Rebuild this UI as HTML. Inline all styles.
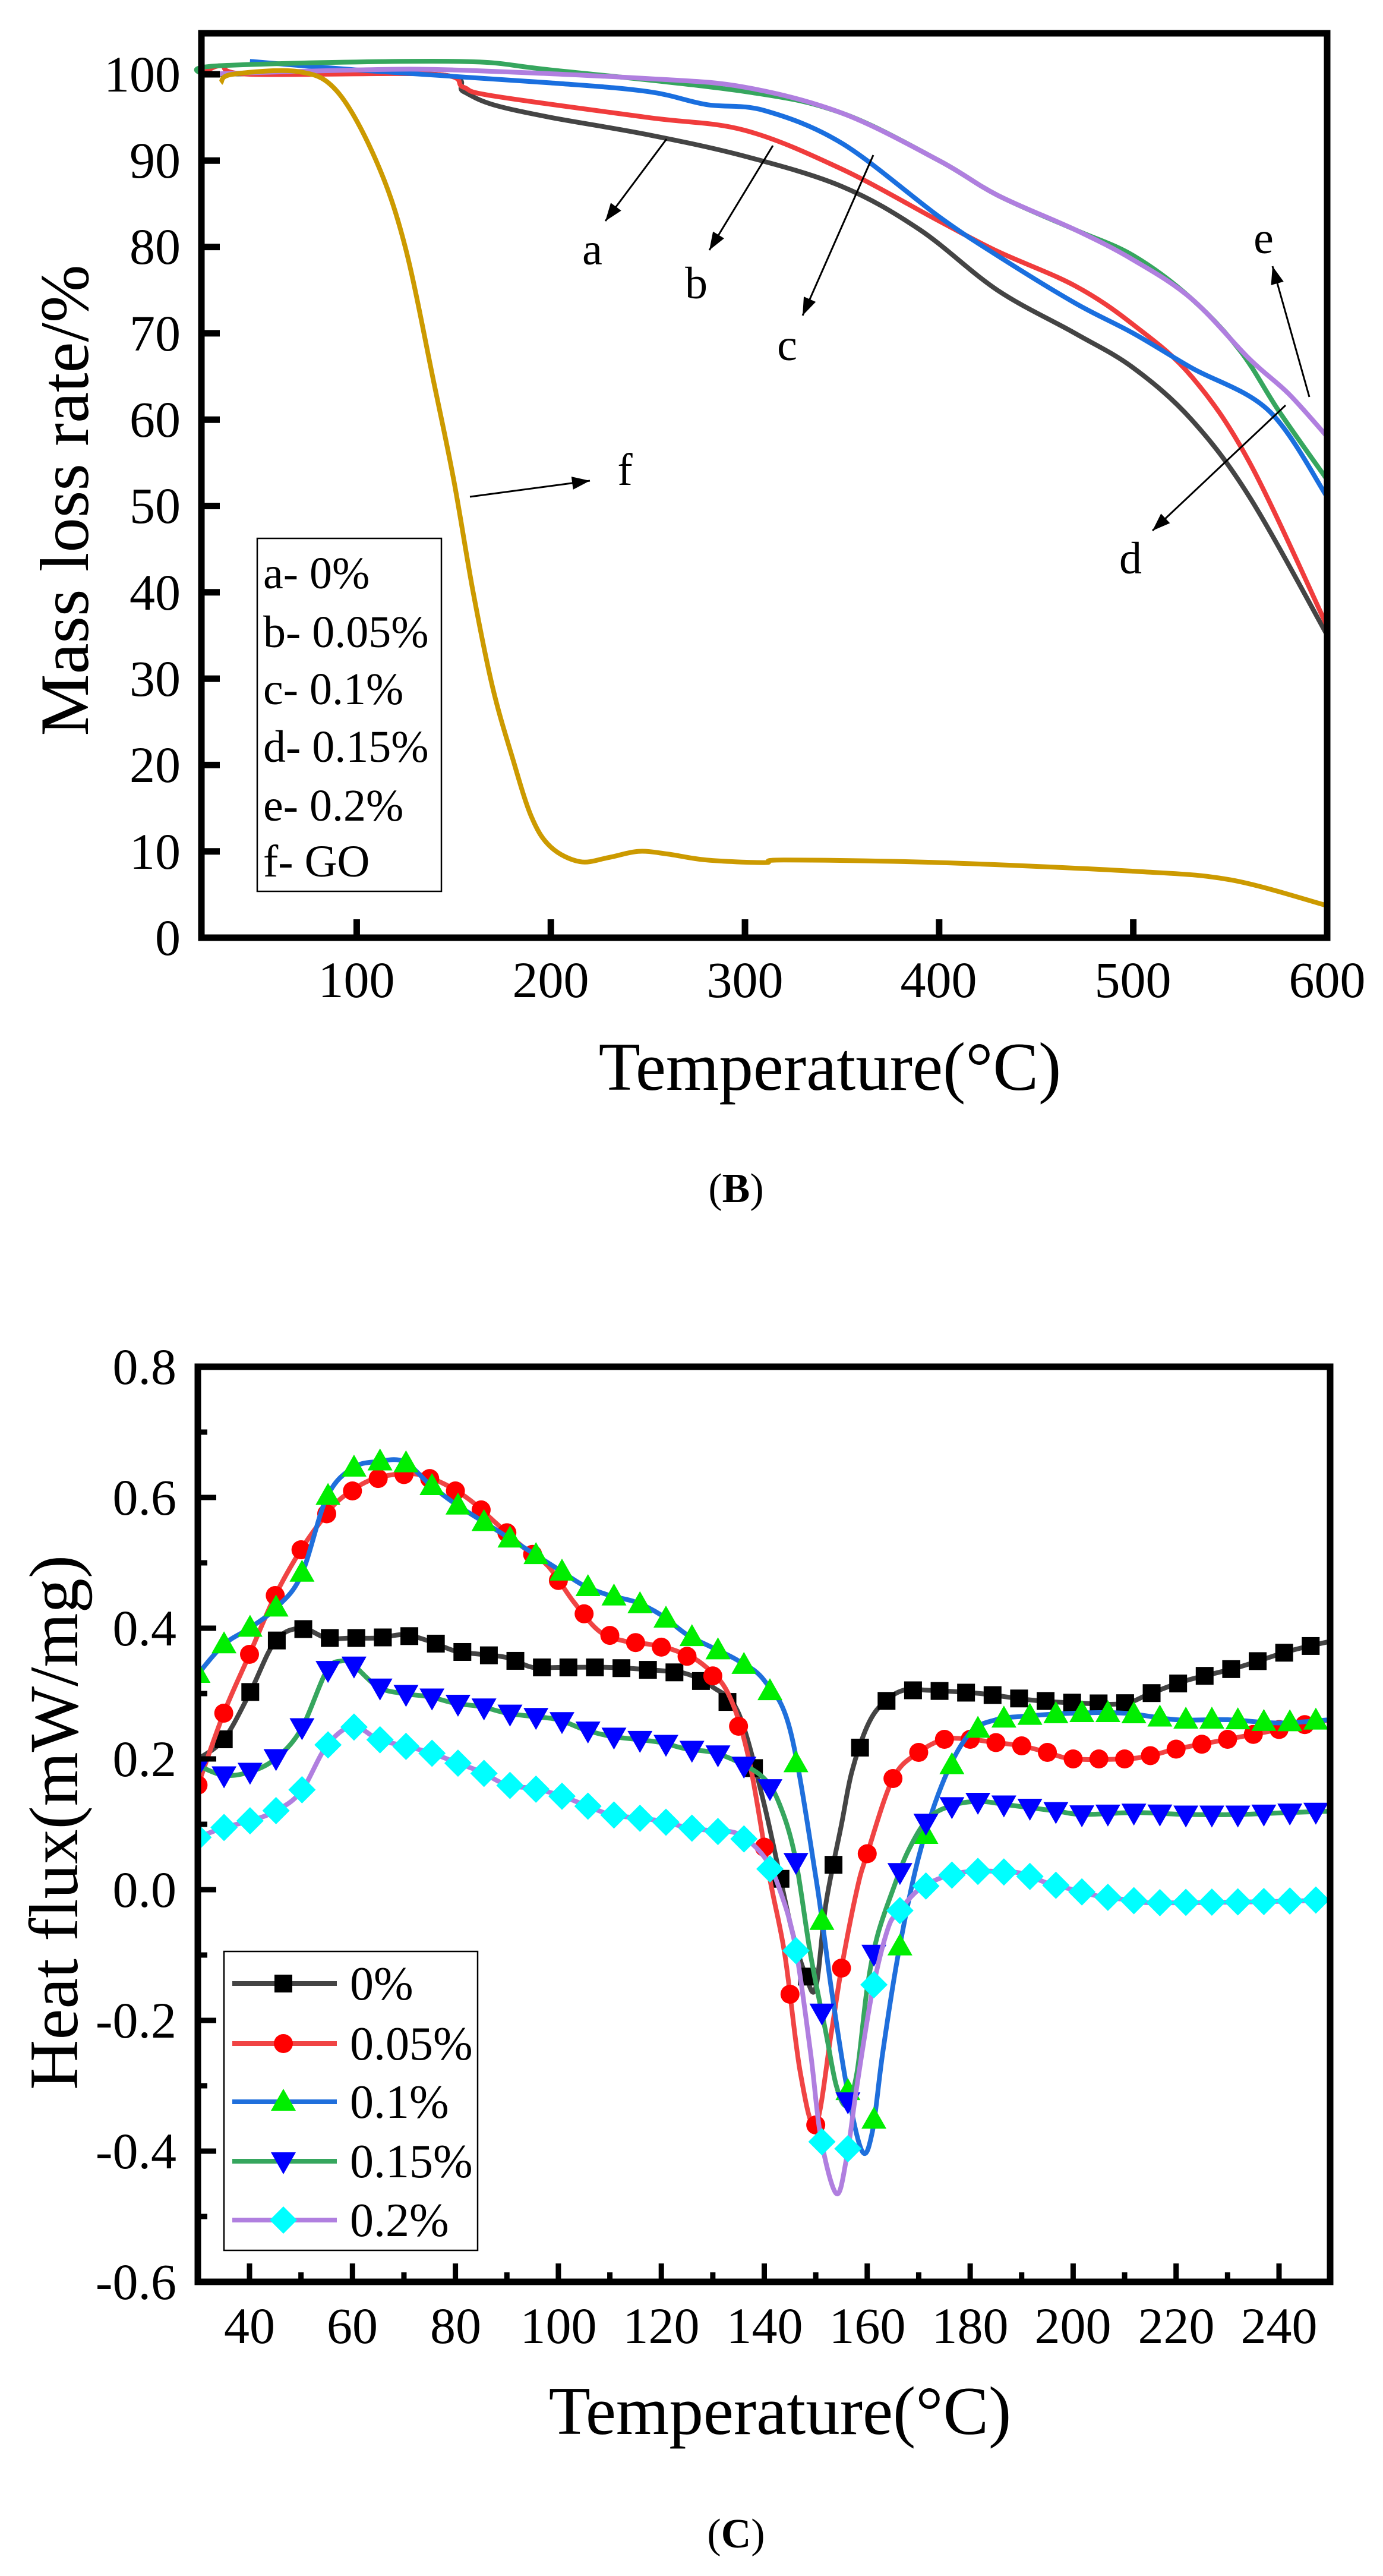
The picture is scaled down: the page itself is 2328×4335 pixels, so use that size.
<!DOCTYPE html>
<html><head><meta charset="utf-8">
<style>
html,body{margin:0;padding:0;background:#fff;}
svg{display:block;}
text{font-family:"Liberation Serif",serif;fill:#000;}
</style></head>
<body>
<svg id="s" width="2328" height="4335" viewBox="0 0 2328 4335" xmlns="http://www.w3.org/2000/svg">
<rect width="2328" height="4335" fill="#fff"/>
<g id="topg"></g>
<g id="bot"></g>
<!-- top chart texts -->
<g font-size="86" text-anchor="end">
<text x="304" y="154">100</text><text x="304" y="299">90</text><text x="304" y="444">80</text><text x="304" y="590">70</text><text x="304" y="735">60</text><text x="304" y="880">50</text><text x="304" y="1026">40</text><text x="304" y="1171">30</text><text x="304" y="1316">20</text><text x="304" y="1462">10</text><text x="304" y="1607">0</text>
</g>
<g font-size="86" text-anchor="middle">
<text x="600" y="1678">100</text><text x="927" y="1678">200</text><text x="1254" y="1678">300</text><text x="1580" y="1678">400</text><text x="1907" y="1678">500</text><text x="2234" y="1678">600</text>
</g>
<text x="1397" y="1834" font-size="115" text-anchor="middle">Temperature(°C)</text>
<text transform="translate(148,842) rotate(-90)" font-size="117" text-anchor="middle">Mass loss rate/%</text>
<text x="1239" y="2023" font-size="70" text-anchor="middle">(<tspan font-weight="bold">B</tspan>)</text>
<rect x="433" y="906" width="310" height="594" fill="none" stroke="#000" stroke-width="2.5"/>
<g font-size="76">
<text x="443" y="990">a- 0%</text><text x="443" y="1089">b- 0.05%</text><text x="443" y="1185">c- 0.1%</text><text x="443" y="1282">d- 0.15%</text><text x="443" y="1381">e- 0.2%</text><text x="443" y="1475">f- GO</text>
</g>
<g font-size="76" text-anchor="middle">
<text x="997" y="445">a</text><text x="1172" y="502">b</text><text x="1325" y="606">c</text><text x="1903" y="965">d</text><text x="2127" y="426">e</text><text x="1052" y="816">f</text>
</g>
<!-- bottom chart texts -->
<g font-size="86" text-anchor="end">
<text x="297" y="2329">0.8</text><text x="297" y="2549">0.6</text><text x="297" y="2769">0.4</text><text x="297" y="2989">0.2</text><text x="297" y="3209">0.0</text><text x="297" y="3429">-0.2</text><text x="297" y="3649">-0.4</text><text x="297" y="3869">-0.6</text>
</g>
<g font-size="86" text-anchor="middle">
<text x="420" y="3943">40</text><text x="593" y="3943">60</text><text x="767" y="3943">80</text><text x="940" y="3943">100</text><text x="1113" y="3943">120</text><text x="1287" y="3943">140</text><text x="1460" y="3943">160</text><text x="1633" y="3943">180</text><text x="1806" y="3943">200</text><text x="1980" y="3943">220</text><text x="2153" y="3943">240</text>
</g>
<text x="1313" y="4096" font-size="115" text-anchor="middle">Temperature(°C)</text>
<text transform="translate(130,3067) rotate(-90)" font-size="117" text-anchor="middle">Heat flux(mW/mg)</text>
<text x="1239" y="4287" font-size="70" text-anchor="middle">(<tspan font-weight="bold">C</tspan>)</text>
<g id="legbox"></g>
<g font-size="80">
<text x="589" y="3365">0%</text><text x="589" y="3466">0.05%</text><text x="589" y="3564">0.1%</text><text x="589" y="3664">0.15%</text><text x="589" y="3763">0.2%</text>
</g>
<g id="leg"></g>
</svg>
<script>
(function(){
var NS="http://www.w3.org/2000/svg";
function el(p,t,a){var e=document.createElementNS(NS,t);for(var k in a)e.setAttribute(k,a[k]);p.appendChild(e);return e;}
function spline(pts){
  var d="M"+pts[0][0].toFixed(1)+","+pts[0][1].toFixed(1);
  for(var i=0;i<pts.length-1;i++){
    var p0=pts[i-1]||pts[i],p1=pts[i],p2=pts[i+1],p3=pts[i+2]||p2;
    var c1=[p1[0]+(p2[0]-p0[0])/6,p1[1]+(p2[1]-p0[1])/6];
    var c2=[p2[0]-(p3[0]-p1[0])/6,p2[1]-(p3[1]-p1[1])/6];
    d+="C"+c1[0].toFixed(1)+","+c1[1].toFixed(1)+" "+c2[0].toFixed(1)+","+c2[1].toFixed(1)+" "+p2[0].toFixed(1)+","+p2[1].toFixed(1);
  }
  return d;
}
function interp(data,x){
  for(var i=0;i<data.length-1;i++){if(x>=data[i][0]&&x<=data[i+1][0]){var t=(x-data[i][0])/(data[i+1][0]-data[i][0]);return data[i][1]+t*(data[i+1][1]-data[i][1]);}}
  return data[data.length-1][1];
}
/* ---------- TOP ---------- */
var T=document.getElementById("topg");
function tx(v){return 339+(v-20)*3.268;} function ty(v){return 1578-v*14.53;}
function P(a){return a.map(function(p){return [tx(p[0]),ty(p[1])];});}
var topS=[
["#444",[[20,100],[140,100],[155,98],[170,96.5],[200,95],[250,93],[300,90.5],[350,87],[390,82],[430,75],[470,70],[500,66],[530,60],[560,51],[600,35]]],
["#f03c3c",[[20,100],[30,101],[45,100],[140,100],[155,98.5],[170,97.5],[250,95],[300,93.5],[350,89],[400,83],[430,79.5],[470,75.5],[500,71],[530,65],[560,55],[600,36]]],
["#1a6fdf",[[45,101.5],[100,100.5],[200,99],[250,98],[280,96.5],[310,95.8],[350,92],[400,83.5],[430,79],[470,73.5],[500,70],[530,66],[570,61],[600,51]]],
["#36a65e",[[20,100],[30,101],[150,101.5],[200,100.5],[300,98],[350,95.5],[400,90],[430,86],[470,82],[500,79],[530,74],[555,68],[575,61],[600,53]]],
["#b07fdf",[[20,100],[100,100.5],[150,100.5],[250,99.5],[300,98.5],[350,95.5],[400,90],[430,86],[470,82],[500,78.5],[530,74],[560,67],[580,63],[600,58]]],
["#cc9a00",[[30,99],[36,100],[70,100.3],[90,98],[110,90],[125,80],[140,64],[150,53],[160,40],[170,29],[180,21],[190,14],[200,10.5],[215,8.8],[230,9.3],[245,10],[260,9.7],[280,9],[310,8.7],[320,9],[400,8.7],[500,7.7],[550,6.7],[600,3.7]]]
];
topS.forEach(function(s){el(T,"path",{d:spline(P(s[1])),fill:"none",stroke:s[0],"stroke-width":8,"stroke-linejoin":"round"});});
el(T,"rect",{x:339,y:56,width:1895,height:1522,fill:"none",stroke:"#000","stroke-width":11});
for(var v=0;v<=100;v+=10){var y=ty(v);el(T,"line",{x1:339,y1:y,x2:370,y2:y,stroke:"#000","stroke-width":11});}
for(var v=100;v<=500;v+=100){var x=tx(v);el(T,"line",{x1:x,y1:1578,x2:x,y2:1547,stroke:"#000","stroke-width":11});}
function arrow(g,x1,y1,x2,y2){
  el(g,"line",{x1:x1,y1:y1,x2:x2,y2:y2,stroke:"#000","stroke-width":3});
  var a=Math.atan2(y2-y1,x2-x1),L=30,W=11;
  var bx=x2-L*Math.cos(a),by=y2-L*Math.sin(a);
  el(g,"polygon",{points:x2+","+y2+" "+(bx+W*Math.sin(a))+","+(by-W*Math.cos(a))+" "+(bx-W*Math.sin(a))+","+(by+W*Math.cos(a)),fill:"#000"});
}
arrow(T,1122,234,1019,372);arrow(T,1301,245,1194,421);arrow(T,1470,261,1351,531);
arrow(T,2164,682,1940,893);arrow(T,2204,668,2142,448);arrow(T,791,836,993,809);
/* ---------- BOTTOM ---------- */
var B=document.getElementById("bot");
function bx(v){return 420+(v-40)*8.665;} function by(v){return 2300+(0.8-v)*1100;}
function Q(a){return a.map(function(p){return [bx(p[0]),by(p[1])];});}
var botS=[
["#444","#000","sq",35,5.15,[[30,0.2],[35,0.23],[40,0.3],[45,0.38],[50,0.4],[55,0.385],[60,0.385],[65,0.385],[70,0.39],[75,0.38],[80,0.365],[85,0.36],[90,0.355],[95,0.34],[100,0.34],[110,0.34],[120,0.335],[125,0.33],[130,0.31],[135,0.27],[140,0.13],[145,-0.05],[148,-0.13],[150,-0.15],[152,-0.02],[155,0.1],[157,0.18],[160,0.25],[163,0.285],[167,0.305],[172,0.305],[182,0.3],[192,0.29],[202,0.285],[210,0.285],[215,0.3],[222,0.32],[232,0.34],[242,0.365],[250,0.38]]],
["#f04444","#ff0000","ci",30,5.0,[[30,0.16],[35,0.27],[40,0.36],[45,0.45],[50,0.52],[55,0.575],[58,0.6],[63,0.625],[68,0.635],[73,0.635],[78,0.62],[83,0.595],[88,0.56],[93,0.525],[98,0.495],[103,0.44],[108,0.395],[113,0.38],[118,0.375],[123,0.365],[128,0.345],[133,0.3],[137,0.2],[141,0.02],[144,-0.1],[147,-0.28],[150,-0.36],[153,-0.22],[155,-0.12],[158,0.0],[160,0.055],[165,0.17],[170,0.21],[175,0.23],[180,0.23],[185,0.225],[190,0.22],[195,0.21],[200,0.2],[210,0.2],[215,0.205],[220,0.215],[230,0.23],[240,0.245],[250,0.26]]],
["#1f6fdc","#00ee00","tu",30,5.05,[[30,0.33],[35,0.375],[40,0.4],[45,0.43],[50,0.48],[55,0.6],[60,0.645],[65,0.655],[70,0.655],[75,0.62],[80,0.59],[85,0.565],[90,0.54],[95,0.515],[100,0.49],[105,0.465],[110,0.45],[115,0.44],[120,0.42],[125,0.39],[130,0.37],[135,0.35],[140,0.32],[145,0.245],[150,0.02],[153,-0.15],[156,-0.3],[159,-0.4],[161,-0.37],[163,-0.25],[166,-0.1],[170,0.05],[175,0.17],[180,0.24],[185,0.26],[190,0.265],[200,0.27],[210,0.27],[220,0.26],[230,0.26],[240,0.255],[250,0.26]]],
["#36a65e","#0000ff","td",30,5.05,[[30,0.19],[35,0.175],[40,0.18],[45,0.2],[50,0.245],[55,0.335],[58,0.35],[60,0.345],[65,0.31],[70,0.3],[75,0.295],[80,0.285],[85,0.28],[90,0.27],[95,0.265],[100,0.26],[105,0.245],[110,0.235],[115,0.23],[120,0.225],[125,0.215],[130,0.21],[135,0.195],[140,0.17],[143,0.13],[146,0.05],[149,-0.1],[152,-0.22],[154,-0.3],[156,-0.33],[158,-0.28],[160,-0.15],[162,-0.07],[165,0.0],[168,0.06],[172,0.11],[177,0.13],[182,0.135],[187,0.13],[192,0.125],[197,0.12],[202,0.115],[212,0.118],[222,0.115],[232,0.115],[242,0.118],[250,0.12]]],
["#b07fdf","#00ffff","di",30,5.05,[[30,0.08],[35,0.095],[40,0.105],[45,0.12],[50,0.15],[55,0.22],[60,0.25],[65,0.23],[70,0.22],[75,0.21],[80,0.195],[85,0.18],[90,0.16],[95,0.155],[100,0.145],[105,0.13],[110,0.115],[115,0.11],[120,0.105],[125,0.095],[130,0.09],[135,0.085],[140,0.05],[143,0.0],[146,-0.085],[149,-0.25],[151,-0.38],[154,-0.465],[156,-0.41],[158,-0.3],[161,-0.155],[164,-0.06],[166,-0.035],[170,0.0],[175,0.02],[180,0.028],[185,0.028],[190,0.025],[195,0.01],[200,0.0],[205,-0.01],[210,-0.015],[215,-0.02],[240,-0.018],[250,-0.015]]]
];
function marker(g,type,x,y,c){
  if(type=="sq")el(g,"rect",{x:x-15,y:y-15,width:30,height:30,fill:c});
  else if(type=="ci")el(g,"circle",{cx:x,cy:y,r:16,fill:c});
  else if(type=="tu")el(g,"polygon",{points:x+","+(y-22)+" "+(x+21)+","+(y+15)+" "+(x-21)+","+(y+15),fill:c});
  else if(type=="td")el(g,"polygon",{points:x+","+(y+22)+" "+(x+21)+","+(y-15)+" "+(x-21)+","+(y-15),fill:c});
  else el(g,"polygon",{points:x+","+(y-23)+" "+(x+23)+","+y+" "+x+","+(y+23)+" "+(x-23)+","+y,fill:c});
}
var clip=el(B,"clipPath",{id:"cp"});el(clip,"rect",{x:333,y:2300,width:1906,height:1540});
var G=el(B,"g",{"clip-path":"url(#cp)"});
botS.forEach(function(s){
  el(G,"path",{d:spline(Q(s[5])),fill:"none",stroke:s[0],"stroke-width":8,"stroke-linejoin":"round"});
  for(var v=s[3];v<=249.5;v+=s[4]){marker(G,s[2],bx(v),by(interp(s[5],v)),s[1]);}
});
el(B,"rect",{x:333,y:2300,width:1906,height:1540,fill:"none",stroke:"#000","stroke-width":11});
for(var i=0;i<=14;i++){var v=0.8-i*0.1,y=by(v),L=(i%2==0)?31:16;el(B,"line",{x1:333,y1:y,x2:333+L,y2:y,stroke:"#000","stroke-width":9});}
for(var v=40;v<=240;v+=10){var x=bx(v),L=(v%20==0)?31:16;el(B,"line",{x1:x,y1:3840,x2:x,y2:3840-L,stroke:"#000","stroke-width":9});}
el(document.getElementById("legbox"),"rect",{x:377,y:3284,width:427,height:503,fill:"#fff",stroke:"#000","stroke-width":2.5});
var Lg=document.getElementById("leg");
var ly=[3338,3439,3537,3637,3736];
botS.forEach(function(s,i){el(Lg,"line",{x1:391,y1:ly[i],x2:567,y2:ly[i],stroke:s[0],"stroke-width":8});marker(Lg,s[2],477,ly[i],s[1]);});
})();
</script>
</body></html>
